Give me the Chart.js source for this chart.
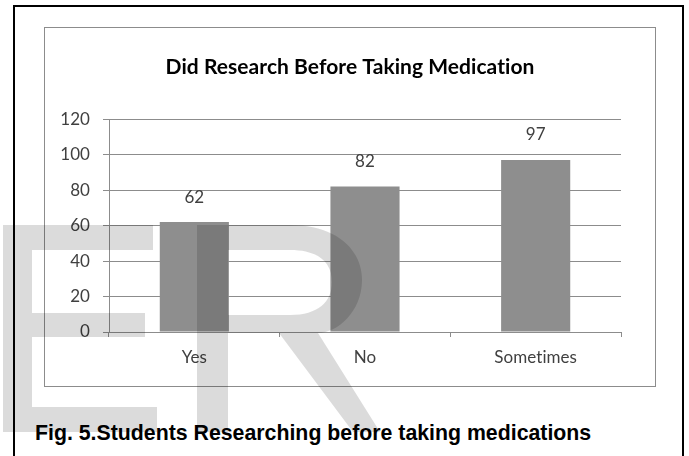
<!DOCTYPE html>
<html lang="en">
<head>
<meta charset="UTF-8" />
<title>Did Research Before Taking Medication</title>
<script src="https://cdn.jsdelivr.net/npm/chart.js"></script>
<style>
  body {
    margin: 0;
    width: 689px;
    height: 456px;
    background: #fff;
    position: relative;
    overflow: hidden;
  }
  .frame {
    position: absolute;
    left: 13px; top: 5px;
    width: 667px; height: 470px;
    border: 2px solid #000;
  }
  .box {
    position: absolute;
    left: 44px; top: 27px;
    width: 610px; height: 358px;
    border: 1px solid #8c8c8c;
  }
  #chart { display: block; }
  .caption {
    position: absolute;
    left: 35px; top: 421px;
    font-family: 'Liberation Sans', Arial, sans-serif;
    font-weight: bold;
    font-size: 21.3px;
    line-height: 24px;
    color: #000;
    white-space: nowrap;
  }
  .mark {
    position: absolute;
    left: 0; top: 0;
    pointer-events: none;
  }
</style>
</head>
<body>
  <div class="frame"></div>
  <div class="box"><canvas id="chart" width="610" height="358"></canvas></div>
  <div class="caption">Fig. 5.Students Researching before taking medications</div>
  <svg class="mark" width="689" height="456" viewBox="0 0 689 456">
    <path fill="rgba(0,0,0,0.14)" d="M3,225 H153 V250 H32 V313 H145 V337 H32 V407 H157 V432 H3 Z" />
    <path fill="rgba(0,0,0,0.14)" fill-rule="evenodd"
      d="M197,225 H290 C337,225 362,250 362,280 C362,312 337,333 318,333 L380,432 H353 L279,333 H228 V432 H197 Z
         M228,250 H290 C318,250 332,262 332,282 C332,302 318,315 290,315 H228 Z" />
  </svg>

<script>
  const chartTitle = 'Did Research Before Taking Medication';
  const categories = ['Yes', 'No', 'Sometimes'];
  const values = [62, 82, 97];
  const yTicks = [0, 20, 40, 60, 80, 100, 120];

  const labelFont = { family: 'Lato', size: 17 };
  const lineGray = '#8c8c8c';
  const textGray = '#404040';

  // a tiny letter spacing stops Lato from joining "ti" into a ligature
  const noLigatures = {
    id: 'noLigatures',
    beforeDraw(chart) {
      chart.ctx.letterSpacing = '0.05px';
    }
  };

  // numbers above the bars
  const valueLabels = {
    id: 'valueLabels',
    afterDatasetsDraw(chart) {
      const ctx = chart.ctx;
      const meta = chart.getDatasetMeta(0);
      ctx.save();
      ctx.font = labelFont.size + 'px ' + labelFont.family;
      ctx.fillStyle = textGray;
      ctx.textAlign = 'center';
      ctx.textBaseline = 'middle';
      meta.data.forEach((bar, i) => {
        ctx.fillText(String(values[i]), bar.x, bar.y - 25);
      });
      ctx.restore();
    }
  };

  new Chart(document.getElementById('chart').getContext('2d'), {
    type: 'bar',
    data: {
      labels: categories,
      datasets: [{
        data: values,
        backgroundColor: '#8e8e8e',
        borderWidth: 0,
        categoryPercentage: 1,
        barPercentage: 0.405
      }]
    },
    options: {
      responsive: false,
      animation: false,
      layout: { padding: 0 },
      plugins: {
        legend: { display: false },
        tooltip: { enabled: false },
        title: {
          display: true,
          text: chartTitle,
          color: '#000',
          font: { family: 'Lato', size: 21, weight: 'bold' },
          padding: { top: 27, bottom: 39 }
        }
      },
      scales: {
        x: {
          grid: { offset: true, drawOnChartArea: false, tickLength: 5, color: lineGray },
          border: { color: lineGray },
          ticks: { color: textGray, font: labelFont, padding: 10 },
          afterFit: s => { s.height = 54; }
        },
        y: {
          min: 0,
          max: 120,
          afterBuildTicks: s => { s.ticks = yTicks.map(v => ({ value: v })); },
          grid: { color: lineGray, tickLength: 6 },
          border: { color: lineGray },
          ticks: { color: textGray, font: labelFont, padding: 13 },
          afterFit: s => { s.width = 64; }
        },
        // empty right-hand axis, only keeps the right margin of the plot
        yRight: {
          position: 'right',
          grid: { display: false },
          border: { display: false },
          ticks: { display: false },
          afterFit: s => { s.width = 34; }
        }
      }
    },
    plugins: [noLigatures, valueLabels]
  });
</script>
</body>
</html>
